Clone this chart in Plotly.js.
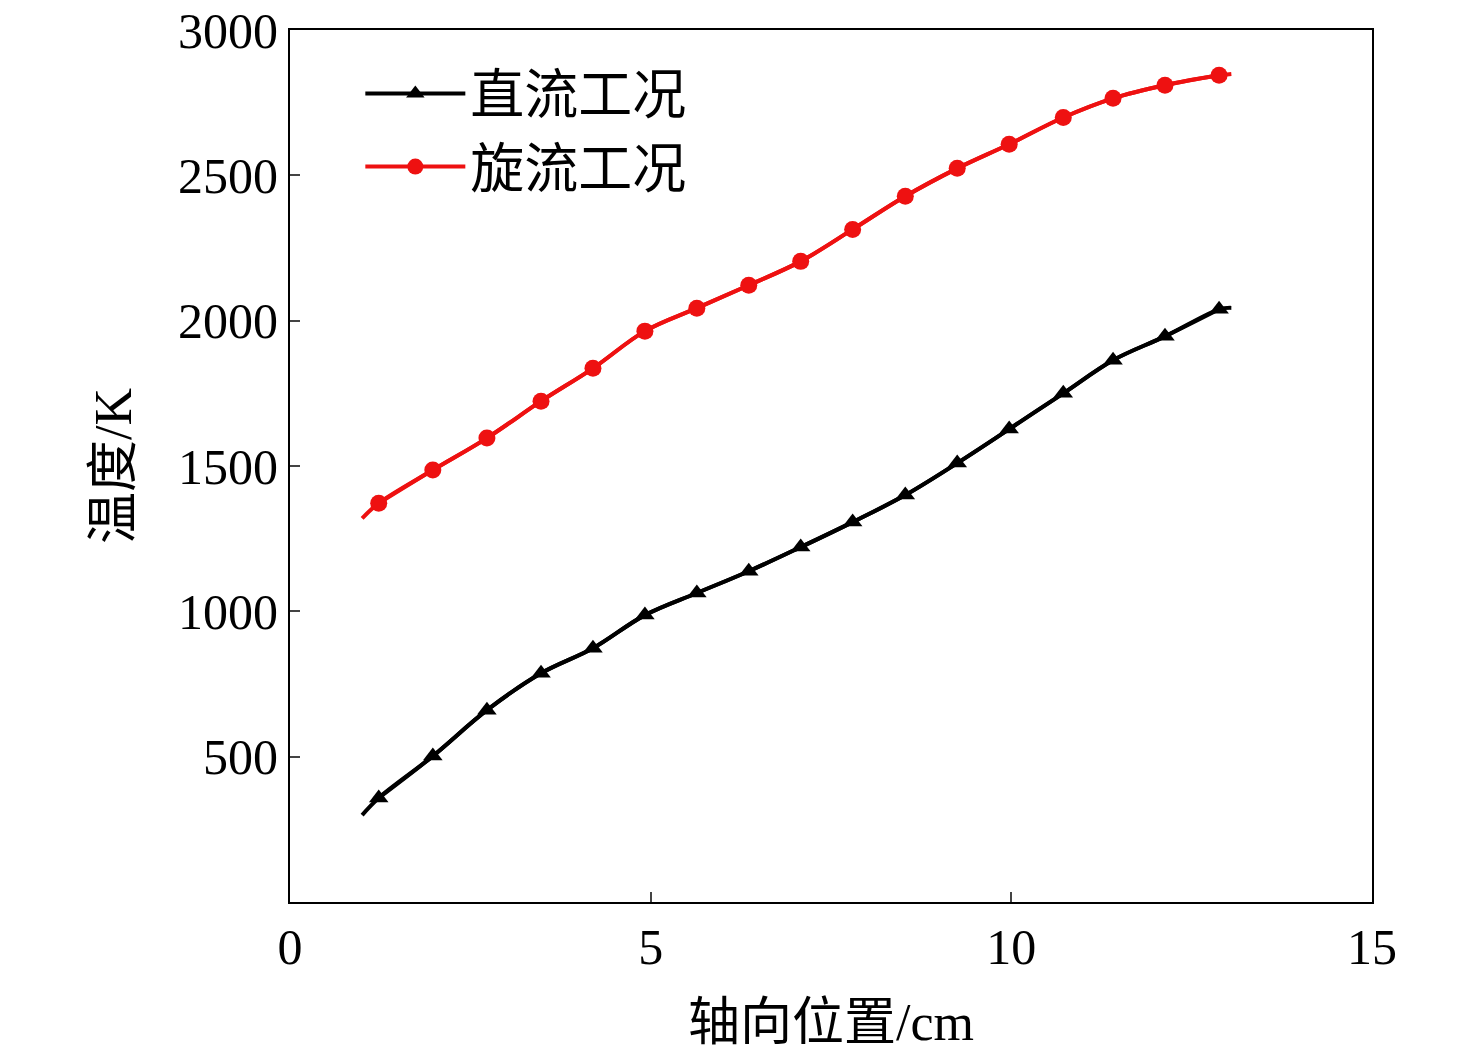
<!DOCTYPE html>
<html><head><meta charset="utf-8">
<script src="https://cdn.plot.ly/plotly-3.0.1.min.js"></script>
<style>body{margin:0;background:#fff}</style>
</head><body>
<div id="chart" style="width:1476px;height:1063px"></div>
<script>
// axial position (cm) and temperature (K)
var xStart = 1.0;
var xPos = [1.23, 1.98, 2.73, 3.48, 4.2, 4.92, 5.64, 6.36, 7.08, 7.8, 8.53, 9.25, 9.97, 10.72, 11.41, 12.13, 12.88];
var swirlStart = 1320;
var swirlT = [1372, 1486, 1596, 1723, 1836, 1964, 2043, 2122, 2204, 2314, 2428, 2524, 2607, 2699, 2765, 2810, 2844];
var directStart = 299;
var directT = [358, 502, 660, 787, 873, 987, 1063, 1138, 1221, 1307, 1400, 1510, 1627, 1750, 1864, 1946, 2039];
var names = ['直流工况', '旋流工况'];

var cjk = '"Liberation Serif", "Noto Sans CJK SC", serif';

function lineTrace(x0, y0, xs, ys, color) {
    return {x: [x0].concat(xs, [13.05]), y: [y0].concat(ys, [ys[ys.length - 1] + 5]),
        mode: 'lines', line: {color: color, width: 4, shape: 'spline'},
        showlegend: false, hoverinfo: 'skip'};
}

var data = [
    lineTrace(xStart, directStart, xPos, directT, 'black'),
    lineTrace(xStart, swirlStart, xPos, swirlT, '#ee1111'),
    {x: xPos, y: directT, name: names[0], mode: 'lines+markers',
        line: {color: 'black', width: 4, shape: 'spline'},
        marker: {symbol: 'triangle-up', size: 17, color: 'black'}},
    {x: xPos, y: swirlT, name: names[1], mode: 'lines+markers',
        line: {color: '#ee1111', width: 4, shape: 'spline'},
        marker: {symbol: 'circle', size: 17, color: '#ee1111'}}
];

var layout = {
    margin: {l: 290, r: 104, t: 30, b: 161},
    paper_bgcolor: 'white', plot_bgcolor: 'white',
    font: {family: cjk, size: 50, color: 'black'},
    showlegend: true,
    legend: {x: 0.065, y: 0.975, xanchor: 'left', yanchor: 'top', itemwidth: 100,
        font: {family: cjk, size: 54}, bgcolor: 'rgba(0,0,0,0)', tracegroupgap: 22},
    xaxis: {range: [0, 15], tickvals: [0, 5, 10, 15], ticks: 'inside', ticklen: 10,
        tickwidth: 2, showline: true, linewidth: 2, linecolor: 'black', mirror: true,
        showgrid: false, zeroline: false,
        title: {text: '轴向位置/cm', font: {family: cjk, size: 52}, standoff: 30}},
    yaxis: {range: [0, 3000], tickvals: [500, 1000, 1500, 2000, 2500, 3000], ticks: 'inside',
        ticklen: 10, tickwidth: 2, showline: true, linewidth: 2, linecolor: 'black',
        mirror: true, showgrid: false, zeroline: false,
        title: {text: '温度/K', font: {family: cjk, size: 52}, standoff: 30}}
};

Plotly.newPlot('chart', data, layout, {displayModeBar: false});
</script>
</body></html>
